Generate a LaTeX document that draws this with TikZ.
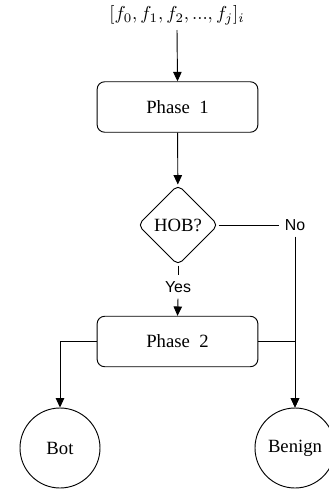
\documentclass[tikz,border=0pt]{standalone}
\usepackage{fontspec}
\setmainfont{Liberation Serif}
\setsansfont{Liberation Sans}
\usetikzlibrary{shapes.geometric,arrows.meta}
\begin{document}
\begin{tikzpicture}[x=0.535pt,y=-0.535pt,
  phasebox/.style={draw,rounded corners=4pt,minimum width=86pt,minimum height=27pt,font=\normalsize},
  decision/.style={draw,diamond,rounded corners=3pt,minimum width=43pt,minimum height=43pt,inner sep=0pt},
  endnode/.style={draw,circle,minimum size=42.8pt,inner sep=0pt},
  lbl/.style={font=\sffamily\fontsize{8.5}{10}\selectfont,inner sep=3pt},
  arr/.style={-{Triangle[length=5pt,width=4.5pt]}},
  line width=0.5pt]
\useasboundingbox (0,0) rectangle (328,492);
\node (in) at (177,15) {$[f_0, f_1, f_2, ..., f_j]_i$};
\coordinate (ins) at (177,30);
\node[phasebox] (p1) at (177.5,107) {Phase\ \ 1};
\node[decision] (hob) at (178,225) {HOB?};
\node[lbl] (no) at (295,225) {No};
\node[lbl] (yes) at (178,287) {Yes};
\node[phasebox] (p2) at (177.5,341.5) {Phase\ \ 2};
\node[endnode] (bot) at (60,448) {Bot};
\node[endnode] (ben) at (295,448) {Benign};
\draw[arr] (ins) -- (p1.north);
\draw[arr] (p1) -- (hob);
\draw (hob.east) -- (no.west);
\draw[arr] (no.south) -- (ben.north);
\draw (hob.south) -- (yes.north);
\draw[arr] (yes.south) -- (p2.north);
\draw[arr] (p2.west) -| (bot.north);
\draw[arr] (p2.east) -| (ben.north);
\end{tikzpicture}
\end{document}
